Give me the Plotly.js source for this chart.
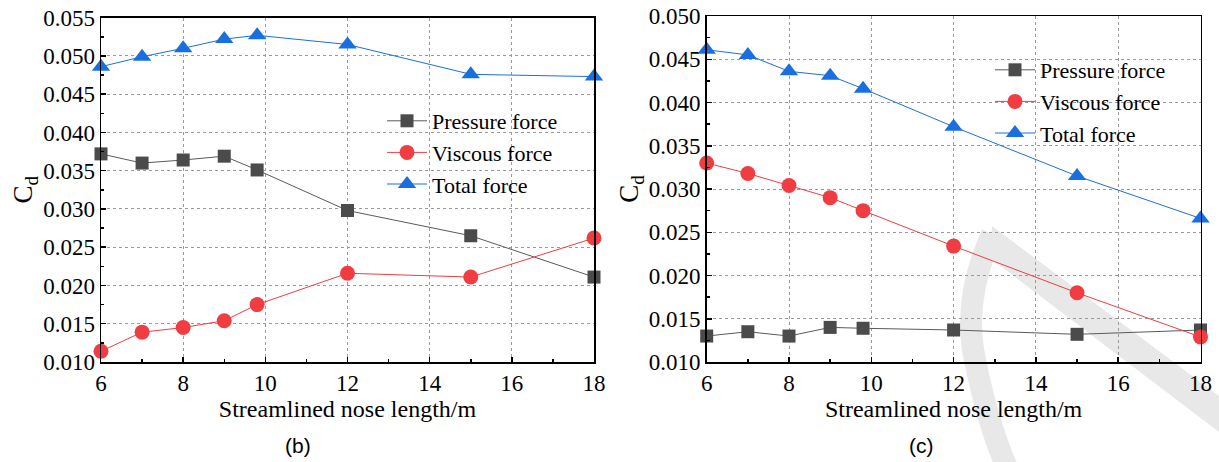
<!DOCTYPE html>
<html>
<head>
<meta charset="utf-8">
<script src="https://cdn.plot.ly/plotly-3.0.1.min.js"></script>
<style>
html,body{margin:0;padding:0;background:#fff;}
#chart{width:1219px;height:462px;}
#chart .xtick text, #chart .x2tick text, #chart .ytick text, #chart .y2tick text,
#chart .g-xtitle text, #chart .g-x2title text, #chart .g-ytitle text, #chart .g-y2title text,
#chart .legendtext { font-family: "Liberation Serif", "Times New Roman", serif !important; }
</style>
</head>
<body>
<div id="chart"></div>
<script>
// Streamlined nose length (m)
const noseLength = [6, 7, 8, 9, 9.8, 12, 15, 18];

// Panel (b)
const pressureB = [0.0372, 0.0360, 0.0364, 0.0369, 0.0351, 0.0298, 0.0265, 0.0211];
const viscousB  = [0.0114, 0.0139, 0.0145, 0.0154, 0.0175, 0.0216, 0.0211, 0.0262];
const totalB    = [0.0486, 0.0499, 0.0510, 0.0522, 0.0527, 0.0515, 0.0476, 0.0473];

// Panel (c)
const pressureC = [0.0130, 0.0135, 0.0130, 0.0140, 0.0139, 0.0137, 0.0132, 0.0137];
const viscousC  = [0.0330, 0.0318, 0.0304, 0.0290, 0.0275, 0.0234, 0.0180, 0.0129];
const totalC    = [0.0461, 0.0455, 0.0436, 0.0431, 0.0416, 0.0372, 0.0315, 0.0266];

const seriesNames = ["Pressure force", "Viscous force", "Total force"];
const panelLabels = ["(b)", "(c)"];
const xTitle = "Streamlined nose length/m";
const yTitle = "C<sub>d</sub>";

const colors = {p: "#4b4b4b", pl: "#5a5a5a", v: "#ef3d42", t: "#1a6fe0"};
const serif = "Liberation Serif";
const sans = "Liberation Sans";

function mk(x, y, name, color, lineColor, symbol, size, xa, ya, legend) {
  return {
    x: x, y: y, name: name, type: "scatter", mode: "lines+markers",
    xaxis: xa, yaxis: ya, legend: legend, cliponaxis: false,
    line: {color: lineColor, width: 1},
    marker: {color: color, symbol: symbol, size: size, line: {width: 0}}
  };
}

const data = [
  mk(noseLength, pressureB, seriesNames[0], colors.p, colors.pl, "square", 13, "x", "y", "legend"),
  mk(noseLength, viscousB, seriesNames[1], colors.v, colors.v, "circle", 15, "x", "y", "legend"),
  mk(noseLength, totalB, seriesNames[2], colors.t, colors.t, "triangle-up", 16, "x", "y", "legend"),
  mk(noseLength, pressureC, seriesNames[0], colors.p, colors.pl, "square", 13, "x2", "y2", "legend2"),
  mk(noseLength, viscousC, seriesNames[1], colors.v, colors.v, "circle", 15, "x2", "y2", "legend2"),
  mk(noseLength, totalC, seriesNames[2], colors.t, colors.t, "triangle-up", 16, "x2", "y2", "legend2")
];

const W = 1219, H = 462;
function xa(domain, anchor) {
  return {
    domain: domain, anchor: anchor, range: [6, 18], tickvals: [6, 8, 10, 12, 14, 16, 18],
    ticks: "inside", ticklen: 5, tickwidth: 1.5, tickcolor: "#000",
    minor: {tickvals: [7, 9, 11, 13, 15, 17], ticks: "inside", ticklen: 3, tickcolor: "#000", showgrid: false},
    showline: true, linecolor: "#000", linewidth: 1.5, mirror: true,
    showgrid: true, gridcolor: "#9a9a9a", griddash: "dot", gridwidth: 1,
    zeroline: false,
    tickfont: {family: serif, size: 23, color: "#000"},
    title: {text: xTitle, font: {family: serif, size: 24, color: "#000"}, standoff: 2},
    fixedrange: true
  };
}
function ya(domain, anchor, range, tv) {
  const minor = [];
  for (let i = 0; i < tv.length - 1; i++) minor.push(+(tv[i] + 0.0025).toFixed(4));
  return {
    domain: domain, anchor: anchor, range: range, tickvals: tv, tickformat: ".3f",
    ticks: "inside", ticklen: 5, tickwidth: 1.5, tickcolor: "#000",
    minor: {tickvals: minor, ticks: "inside", ticklen: 3, tickcolor: "#000", showgrid: false},
    showline: true, linecolor: "#000", linewidth: 1.5, mirror: true,
    showgrid: true, gridcolor: "#9a9a9a", griddash: "dot", gridwidth: 1,
    zeroline: false,
    tickfont: {family: serif, size: 23, color: "#000"},
    title: {text: yTitle, font: {family: serif, size: 27, color: "#000"}, standoff: 2},
    fixedrange: true
  };
}
const tvB = [0.010, 0.015, 0.020, 0.025, 0.030, 0.035, 0.040, 0.045, 0.050, 0.055];
const tvC = [0.010, 0.015, 0.020, 0.025, 0.030, 0.035, 0.040, 0.045, 0.050];

const legendCommon = {
  bgcolor: "rgba(0,0,0,0)", borderwidth: 0,
  font: {family: serif, size: 22, color: "#000"},
  xanchor: "left", yanchor: "top", tracegroupgap: 0, itemwidth: 40
};

// faint background watermark (reference image artefact), pixel coords -> paper
const px = (x) => +(x / W).toFixed(4);
const py = (y) => +(1 - y / H).toFixed(4);
const wm = "#e8e8e8";

const layout = {
  width: W, height: H,
  margin: {l: 0, r: 0, t: 0, b: 0},
  paper_bgcolor: "#fff", plot_bgcolor: "rgba(0,0,0,0)",
  font: {family: serif},
  showlegend: true,
  xaxis: xa([101 / W, 594 / W], "y"),
  yaxis: ya([1 - 362 / H, 1 - 17.7 / H], "x", [0.010, 0.055], tvB),
  xaxis2: xa([706.7 / W, 1200.5 / W], "y2"),
  yaxis2: ya([1 - 362 / H, 1 - 16 / H], "x2", [0.010, 0.050], tvC),
  legend: Object.assign({}, legendCommon, {x: 382 / W, y: 1 - 100 / H}),
  legend2: Object.assign({}, legendCommon, {x: 990 / W, y: 1 - 49 / H}),
  shapes: [
    {type: "path", xref: "paper", yref: "paper", layer: "below",
     path: `M ${px(992)},${py(226)} L ${px(1219)},${py(396)} L ${px(1219)},${py(432)} L ${px(990)},${py(258)} Z`,
     fillcolor: wm, line: {width: 0}},
    {type: "path", xref: "paper", yref: "paper", layer: "below",
     path: `M ${px(992)},${py(234)} Q ${px(962)},${py(300)} ${px(975)},${py(360)} Q ${px(988)},${py(425)} ${px(1008)},${py(470)}`,
     line: {color: wm, width: 22}}
  ],
  annotations: [
    {text: panelLabels[0], xref: "paper", yref: "paper", x: 298 / W, y: 1 - 445 / H,
     xanchor: "center", yanchor: "middle",
     showarrow: false, font: {family: sans, size: 21, color: "#000"}},
    {text: panelLabels[1], xref: "paper", yref: "paper", x: 921 / W, y: 1 - 445 / H,
     xanchor: "center", yanchor: "middle",
     showarrow: false, font: {family: sans, size: 21, color: "#000"}}
  ]
};

Plotly.newPlot("chart", data, layout, {displayModeBar: false, staticPlot: true});
</script>
</body>
</html>
